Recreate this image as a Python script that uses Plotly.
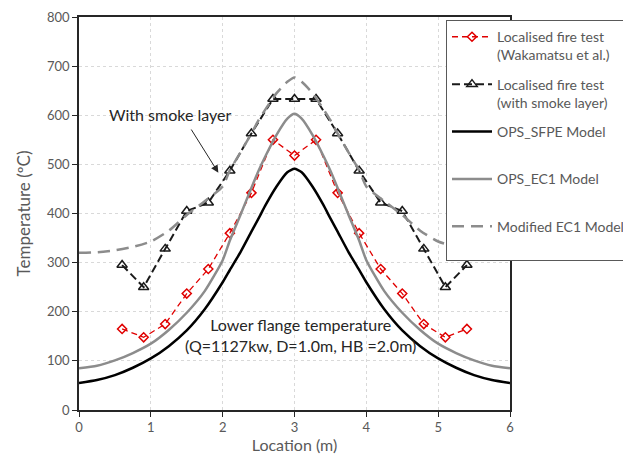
import plotly.graph_objects as go

# ---- data ----
x_test = [0.6, 0.9, 1.2, 1.5, 1.8, 2.1, 2.4, 2.7, 3.0, 3.3, 3.6, 3.9, 4.2, 4.5, 4.8, 5.1, 5.4]
wakamatsu = [165, 148, 175, 237, 287, 360, 442, 550, 518, 550, 442, 360, 287, 237, 175, 148, 165]
smoke_layer = [295, 250, 328, 405, 422, 487, 563, 633, 633, 633, 563, 487, 422, 405, 328, 250, 295]

x_curve = [0, 0.25, 0.5, 0.75, 1, 1.25, 1.5, 1.75, 2, 2.1, 2.25, 2.4, 2.5, 2.6, 2.75, 2.9, 3,
           3.1, 3.25, 3.4, 3.5, 3.6, 3.75, 3.9, 4, 4.25, 4.5, 4.75, 5, 5.25, 5.5, 5.75, 6]
ops_sfpe = [55, 61, 71, 86, 105, 130, 162, 205, 260, 285, 322, 363, 390, 418, 455, 484, 491,
            484, 455, 418, 390, 363, 322, 285, 260, 205, 162, 130, 105, 86, 71, 61, 55]
ops_ec1 = [85, 90, 101, 116, 135, 163, 198, 242, 305, 345, 398, 452, 487, 518, 560, 593, 603,
           593, 560, 518, 487, 452, 398, 345, 305, 242, 198, 163, 135, 116, 101, 90, 85]
mod_ec1 = [320, 321, 325, 332, 343, 365, 397, 425, 455, 488, 525, 563, 590, 613, 645, 668, 677,
           668, 645, 613, 590, 563, 525, 488, 455, 425, 397, 365, 343, 332, 325, 321, 320]

x_ticks = [0, 1, 2, 3, 4, 5, 6]
y_ticks = [0, 100, 200, 300, 400, 500, 600, 700, 800]

FONT = "Lato"
RED = "#e00000"
GRAY = "#8c8c8c"

fig = go.Figure()
fig.add_trace(go.Scatter(
    x=x_test, y=wakamatsu, mode="lines+markers",
    name="Localised fire test<br>(Wakamatsu et al.)", legendgroup="a",
    line=dict(color=RED, width=1.3, dash="6px,4px"),
    marker=dict(symbol="diamond-open", size=7, color=RED, line=dict(width=1.5, color=RED))))
fig.add_trace(go.Scatter(
    x=x_test, y=smoke_layer, mode="lines+markers",
    name="Localised fire test<br>(with smoke layer)", legendgroup="b",
    line=dict(color="#1a1a1a", width=2, dash="8px,4px"),
    marker=dict(symbol="triangle-up-open", size=9, color="#1a1a1a", line=dict(width=1.5, color="#1a1a1a"))))
fig.add_trace(go.Scatter(
    x=x_curve, y=ops_sfpe, mode="lines", name="OPS_SFPE Model<br> ", legendgroup="c",
    line=dict(color="#000000", width=2.5, shape="spline", smoothing=0.6)))
fig.add_trace(go.Scatter(
    x=x_curve, y=ops_ec1, mode="lines", name="OPS_EC1 Model<br> ", legendgroup="d",
    line=dict(color=GRAY, width=2.5, shape="spline", smoothing=0.6)))
fig.add_trace(go.Scatter(
    x=x_curve, y=mod_ec1, mode="lines", name="Modified EC1 Model<br> ", legendgroup="e",
    line=dict(color=GRAY, width=2.5, dash="12px,7px", shape="spline", smoothing=0.6)))

axis_common = dict(
    showline=True, linecolor="#262626", linewidth=1.5, mirror=True,
    ticks="outside", ticklen=5, tickcolor="#262626", tickwidth=1.2,
    showgrid=True, gridcolor="#d9d9d9", griddash="3px,3px", gridwidth=1,
    zeroline=False,
    tickfont=dict(family=FONT, size=13, color="#595959"),
)

fig.update_layout(
    width=623, height=454,
    margin=dict(l=79, r=113, t=17, b=44, autoexpand=False),
    paper_bgcolor="white", plot_bgcolor="white",
    font=dict(family=FONT, color="#595959"),
    xaxis=dict(range=[0, 6], tickvals=x_ticks,
               title=dict(text="Location (m)", font=dict(family=FONT, size=16, color="#595959"), standoff=7),
               **axis_common),
    yaxis=dict(range=[0, 800], tickvals=y_ticks,
               title=dict(text="Temperature (ºC)", font=dict(family=FONT, size=17, color="#595959"), standoff=12),
               **axis_common),
    legend=dict(x=0.8515, y=0.992, xanchor="left", yanchor="top",
                bgcolor="white", bordercolor="#595959", borderwidth=1,
                font=dict(family=FONT, size=14, color="#595959"),
                valign="top", tracegroupgap=8, itemwidth=40),
    showlegend=True,
)

fig.add_annotation(x=1.27, y=601, xref="x", yref="y", text="With smoke layer", showarrow=False,
                   font=dict(family=FONT, size=16, color="#262626"))
fig.add_annotation(x=1.94, y=483, ax=1.55, ay=574, xref="x", yref="y", axref="x", ayref="y",
                   text="", showarrow=True, arrowhead=2, arrowsize=1.5, arrowwidth=1, arrowcolor="#262626")
fig.add_annotation(x=3.08, y=152, xref="x", yref="y",
                   text="Lower flange temperature<br>(Q=1127kw, D=1.0m, HB =2.0m)",
                   showarrow=False, font=dict(family=FONT, size=16, color="#262626"))

fig.write_html("out.html")
